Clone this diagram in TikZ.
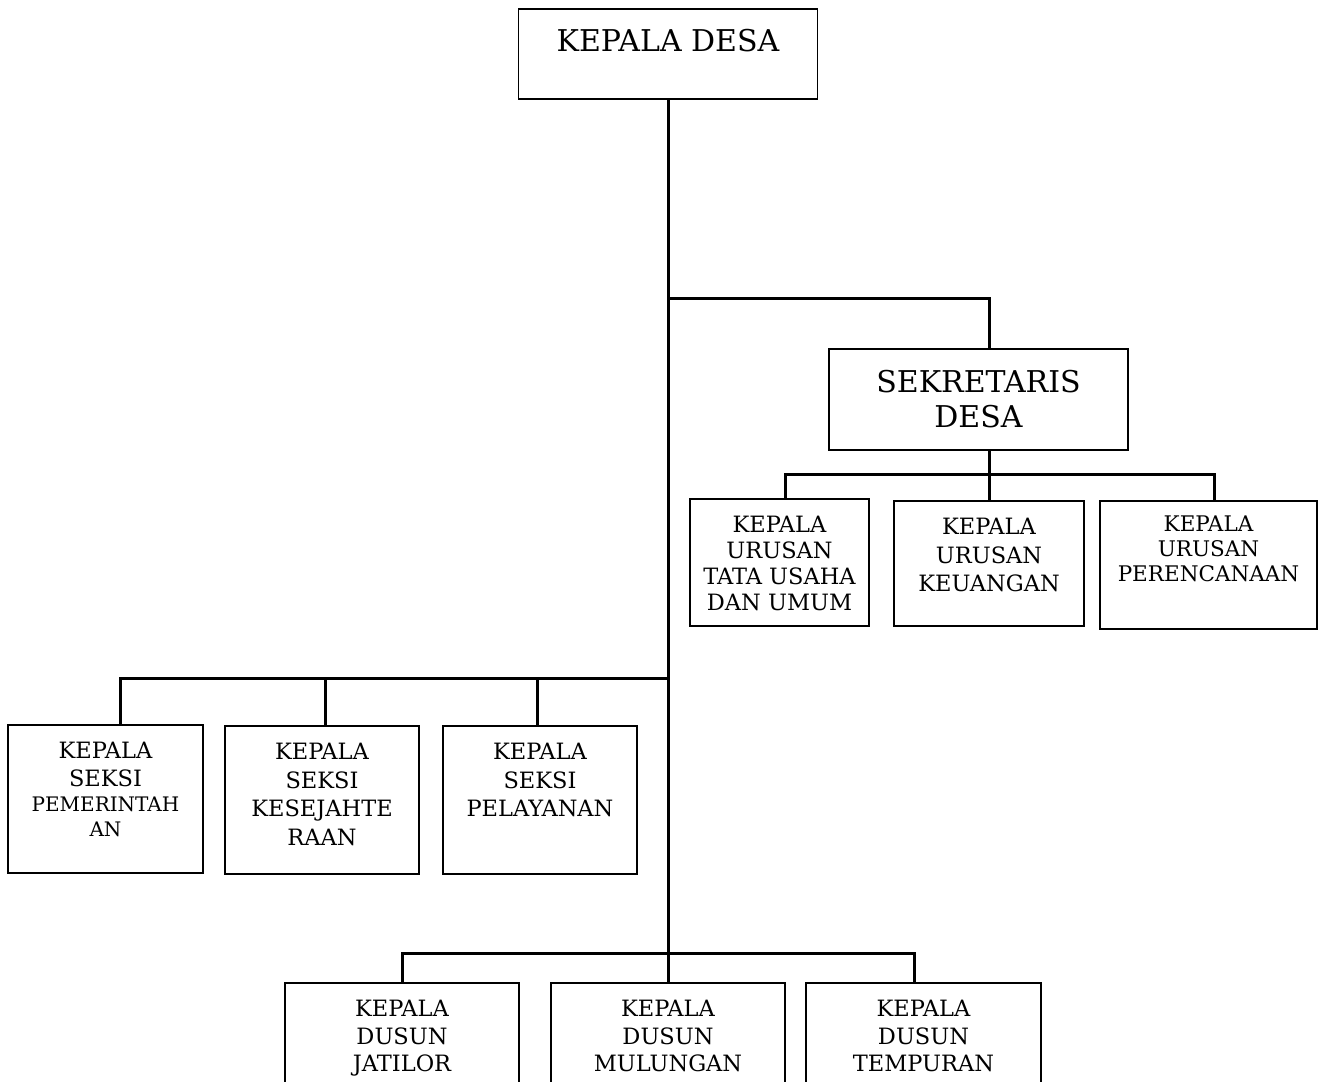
\documentclass[tikz,border=0pt]{standalone}
\usepackage{fontspec}
\setmainfont{DejaVu Serif}
\newcommand{\cellbox}[4]{\parbox[c][#2][t]{#1}{\centering\rule{0pt}{#3}#4\par}}
\begin{document}
\begin{tikzpicture}[x=1pt,y=-1pt,
  box/.style={draw, line width=1.8pt, inner sep=0pt, anchor=north},
  conn/.style={line width=3pt}]
\useasboundingbox (0,0) rectangle (1318,1082);
\clip (0,0) rectangle (1318,1082);

\node[box, font=\fontsize{30}{35}\selectfont] (kades) at (668,8) {\cellbox{299pt}{90pt}{43pt}{KEPALA DESA}};
\node[box, font=\fontsize{30}{35}\selectfont] (sekdes) at (978.5,348) {\cellbox{299pt}{101pt}{44pt}{SEKRETARIS\\DESA}};

\node[box, font=\fontsize{22.5}{26}\selectfont] (urtu) at (779.5,498) {\cellbox{179pt}{127pt}{34pt}{KEPALA\\URUSAN\\TATA USAHA\\DAN UMUM}};
\node[box, font=\fontsize{22.5}{28.5}\selectfont] (keu) at (989,500) {\cellbox{190pt}{125pt}{34pt}{KEPALA\\URUSAN\\KEUANGAN}};
\node[box, font=\fontsize{21.5}{25}\selectfont] (renc) at (1208.5,500) {\cellbox{217pt}{128pt}{31pt}{KEPALA\\URUSAN\\PERENCANAAN}};

\node[box, font=\fontsize{22.5}{28}\selectfont] (pem) at (105.5,724) {\cellbox{195pt}{148pt}{34pt}{KEPALA\\SEKSI\par{\fontsize{20}{25}\selectfont PEMERINTAH\\AN\par}}};
\node[box, font=\fontsize{22.5}{28.5}\selectfont] (kes) at (322,725) {\cellbox{194pt}{148pt}{34pt}{KEPALA\\SEKSI\\KESEJAHTE\\RAAN}};
\node[box, font=\fontsize{22.5}{28.5}\selectfont] (pel) at (540,725) {\cellbox{194pt}{148pt}{34pt}{KEPALA\\SEKSI\\PELAYANAN}};

\node[box, font=\fontsize{22.5}{27.5}\selectfont] (jat) at (402,982) {\cellbox{234pt}{140pt}{34pt}{KEPALA\\DUSUN\\JATILOR}};
\node[box, font=\fontsize{22.5}{27.5}\selectfont] (mul) at (668,982) {\cellbox{234pt}{140pt}{34pt}{KEPALA\\DUSUN\\MULUNGAN}};
\node[box, font=\fontsize{22.5}{27.5}\selectfont] (tem) at (923.5,982) {\cellbox{235pt}{140pt}{34pt}{KEPALA\\DUSUN\\TEMPURAN}};

\coordinate (jsek) at (668,298);
\coordinate (jur) at (989,474);
\coordinate (jsk) at (668,678);
\coordinate (jds) at (668,953);

\path[draw,conn] (kades.south) -- (mul.north);
\path[draw,conn] (jsek) -| ([xshift=10.5pt]sekdes.north);
\path[draw,conn] ([xshift=10.5pt]sekdes.south) -- (jur);
\path[draw,conn] (jur) -| ([xshift=5.5pt]urtu.north);
\path[draw,conn] (jur) -- (keu.north);
\path[draw,conn] (jur) -| ([xshift=5.5pt]renc.north);
\path[draw,conn] (jsk) -| ([xshift=14.5pt]pem.north);
\path[draw,conn] (jsk) -| ([xshift=3pt]kes.north);
\path[draw,conn] (jsk) -| ([xshift=-3pt]pel.north);
\path[draw,conn] (jds) -| (jat.north);
\path[draw,conn] (jds) -| ([xshift=-9.5pt]tem.north);
\end{tikzpicture}
\end{document}
